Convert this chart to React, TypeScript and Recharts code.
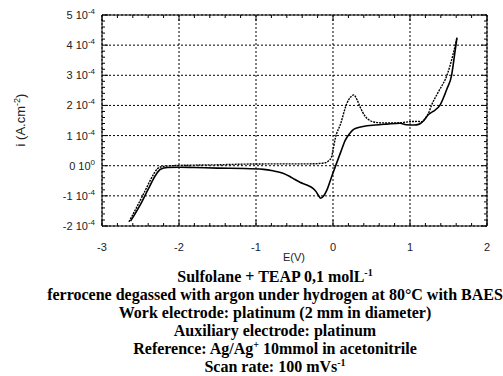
import React from 'react';
import { LineChart, Line, XAxis, YAxis } from 'recharts';

// Potential axis (V)
const E_TICKS = [-3, -2, -1, 0, 1, 2];
const E_MINOR = [-3, -2.8, -2.6, -2.4, -2.2, -2, -1.8, -1.6, -1.4, -1.2, -1, -0.8, -0.6, -0.4, -0.2, 0, 0.2, 0.4, 0.6, 0.8, 1, 1.2, 1.4, 1.6, 1.8, 2];
// Current axis, in units of 1e-4 A.cm^-2
const I_TICKS = [-2, -1, 0, 1, 2, 3, 4, 5];
const I_TICK_MANT = ['-2', '-1', '0', '1', '2', '3', '4', '5'];
const I_TICK_EXP = ['-4', '-4', '0', '-4', '-4', '-4', '-4', '-4'];
const I_MINOR = [-2, -1.8, -1.6, -1.4, -1.2, -1, -0.8, -0.6, -0.4, -0.2, 0, 0.2, 0.4, 0.6, 0.8, 1, 1.2, 1.4, 1.6, 1.8, 2, 2.2, 2.4, 2.6, 2.8, 3, 3.2, 3.4, 3.6, 3.8, 4, 4.2, 4.4, 4.6, 4.8, 5];

// Anodic (forward) scan
const forwardE = [-2.65, -2.55, -2.45, -2.38, -2.32, -2.28, -2.22, -2.1, -1.8, -1.5, -1.2, -0.8, -0.4, -0.2, -0.1, -0.05, -0.02, 0.0, 0.03, 0.1, 0.18, 0.23, 0.27, 0.31, 0.35, 0.42, 0.48, 0.53, 0.65, 0.8, 0.9, 1.0, 1.1, 1.15, 1.2, 1.24, 1.28, 1.38, 1.48, 1.55, 1.61];
const forwardI = [-1.86, -1.38, -0.88, -0.52, -0.24, -0.1, -0.03, 0.0, 0.02, 0.03, 0.05, 0.06, 0.06, 0.07, 0.1, 0.18, 0.28, 0.52, 0.91, 1.4, 2.07, 2.28, 2.35, 2.2, 1.96, 1.63, 1.5, 1.45, 1.42, 1.42, 1.43, 1.46, 1.47, 1.46, 1.58, 1.74, 2.01, 2.5, 3.0, 3.6, 4.25];

// Cathodic (reverse) scan
const reverseE = [1.61, 1.58, 1.54, 1.48, 1.39, 1.3, 1.24, 1.18, 1.12, 1.05, 0.95, 0.87, 0.7, 0.55, 0.39, 0.3, 0.26, 0.22, 0.16, 0.1, 0.03, -0.02, -0.08, -0.12, -0.16, -0.19, -0.22, -0.26, -0.34, -0.43, -0.5, -0.56, -0.65, -0.78, -0.9, -1.15, -1.5, -1.8, -2.0, -2.15, -2.24, -2.3, -2.4, -2.5, -2.63];
const reverseI = [4.25, 3.7, 3.0, 2.55, 2.01, 1.8, 1.7, 1.5, 1.38, 1.35, 1.36, 1.41, 1.38, 1.35, 1.3, 1.24, 1.19, 1.08, 0.85, 0.45, -0.03, -0.38, -0.81, -1.0, -1.08, -0.98, -0.86, -0.75, -0.64, -0.55, -0.45, -0.36, -0.25, -0.17, -0.12, -0.09, -0.08, -0.06, -0.05, -0.06, -0.12, -0.3, -0.78, -1.28, -1.84];

const TITLE_LINES = [
  { text: 'Sulfolane + TEAP 0,1 molL', sup: '-1', tail: '' },
  { text: 'ferrocene degassed with argon under hydrogen at 80°C with BAES', sup: '', tail: '' },
  { text: 'Work electrode: platinum (2 mm in diameter)', sup: '', tail: '' },
  { text: 'Auxiliary electrode: platinum', sup: '', tail: '' },
  { text: 'Reference: Ag/Ag', sup: '+', tail: ' 10mmol in acetonitrile' },
  { text: 'Scan rate: 100 mVs', sup: '-1', tail: '' },
];

const forwardData = forwardE.map((e, k) => ({ e, i: forwardI[k] }));
const reverseData = reverseE.map((e, k) => ({ e, i: reverseI[k] }));

const SANS = '"Liberation Sans", Arial, sans-serif';
const SERIF = '"Liberation Serif", "Times New Roman", serif';
const MAJOR_LEN = 6;
const MINOR_LEN = 3;
const CHART_W = 503;
const CHART_H = 376;
const MARGIN = { top: 14, right: 15, bottom: 149, left: 101 };
const PLOT_W = CHART_W - MARGIN.left - MARGIN.right - 2;
const PLOT_H = CHART_H - MARGIN.top - MARGIN.bottom - 2;
const GRID_DASH = '2 2';

// Major-tick labels only (tick marks are drawn by the top / right axes)
const BottomLabel = (p: any) => (
  <text x={p.x} y={p.y + 25} textAnchor="middle" fontSize={11} fontFamily={SANS} fill="#222">{p.payload.value}</text>
);

const LeftLabel = (p: any) => {
  const idx = I_TICKS.indexOf(p.payload.value);
  return (
    <text x={p.x - 7} y={p.y + 4} textAnchor="end" fontSize={11} fontFamily={SANS} fill="#222">
      <tspan>{I_TICK_MANT[idx]} 10</tspan>
      <tspan dy={-5} fontSize={8}>{I_TICK_EXP[idx]}</tspan>
    </text>
  );
};

// Top axis: inward tick marks on top and bottom frame edges, dotted vertical grid at majors
const TopTick = (p: any) => {
  const major = E_TICKS.includes(p.payload.value);
  const len = major ? MAJOR_LEN : MINOR_LEN;
  return (
    <g>
      {major ? <line x1={p.x} y1={p.y} x2={p.x} y2={p.y + PLOT_H} stroke="#000" strokeDasharray={GRID_DASH} /> : null}
      <line x1={p.x} y1={p.y} x2={p.x} y2={p.y + len} stroke="#000" />
      <line x1={p.x} y1={p.y + PLOT_H} x2={p.x} y2={p.y + PLOT_H - len} stroke="#000" />
    </g>
  );
};

// Right axis: inward tick marks on right and left frame edges, dotted horizontal grid at majors
const RightTick = (p: any) => {
  const major = I_TICKS.includes(p.payload.value);
  const len = major ? MAJOR_LEN : MINOR_LEN;
  return (
    <g>
      {major ? <line x1={p.x} y1={p.y} x2={p.x - PLOT_W} y2={p.y} stroke="#000" strokeDasharray={GRID_DASH} /> : null}
      <line x1={p.x} y1={p.y} x2={p.x - len} y2={p.y} stroke="#000" />
      <line x1={p.x - PLOT_W} y1={p.y} x2={p.x - PLOT_W + len} y2={p.y} stroke="#000" />
    </g>
  );
};

const common = { type: 'number' as const, allowDataOverflow: true, interval: 0 as const, tickSize: 0, tickMargin: 0, tickLine: false };

export default function App() {
  return (
    <div style={{ position: 'absolute', left: 0, top: 0, width: CHART_W, height: CHART_H, background: '#fff' }}>
      <LineChart width={CHART_W} height={CHART_H} margin={MARGIN}>
        <XAxis xAxisId="x" dataKey="e" {...common} domain={[-3, 2]} ticks={E_TICKS} orientation="bottom" height={1}
          axisLine={{ stroke: '#000' }} tick={BottomLabel} />
        <XAxis xAxisId="xt" dataKey="e" {...common} domain={[-3, 2]} ticks={E_MINOR} orientation="top" height={1}
          axisLine={{ stroke: '#000' }} tick={TopTick} />
        <YAxis yAxisId="y" dataKey="i" {...common} domain={[-2, 5]} ticks={I_TICKS} orientation="left" width={1}
          axisLine={{ stroke: '#000' }} tick={LeftLabel} />
        <YAxis yAxisId="yr" dataKey="i" {...common} domain={[-2, 5]} ticks={I_MINOR} orientation="right" width={1}
          axisLine={{ stroke: '#000' }} tick={RightTick} />
        <Line xAxisId="x" yAxisId="y" data={forwardData} dataKey="i" type="monotone" stroke="#000" strokeWidth={1.4}
          strokeDasharray="2 1" dot={false} isAnimationActive={false} />
        <Line xAxisId="x" yAxisId="y" data={reverseData} dataKey="i" type="monotone" stroke="#000" strokeWidth={1.6}
          dot={false} isAnimationActive={false} />
      </LineChart>
      <svg width={CHART_W} height={CHART_H} style={{ position: 'absolute', left: 0, top: 0, pointerEvents: 'none' }}>
        <text transform="rotate(-90)" x={-120} y={25} textAnchor="middle" fontSize={13} fontFamily={SANS} fill="#222">
          <tspan>i (A.cm</tspan>
          <tspan dy={-5} fontSize={9}>-2</tspan>
          <tspan dy={5}>)</tspan>
        </text>
        <text x={294} y={261} textAnchor="middle" fontSize={11} fontFamily={SANS} fill="#222">E(V)</text>
        {TITLE_LINES.map((l, k) => (
          <text key={k} x={275} y={282 + k * 18} textAnchor="middle" fontSize={16} fontWeight="bold" fontFamily={SERIF} fill="#000">
            <tspan>{l.text}</tspan>
            {l.sup ? <tspan dy={-6} fontSize={10}>{l.sup}</tspan> : null}
            {l.tail ? <tspan dy={6}>{l.tail}</tspan> : null}
          </text>
        ))}
      </svg>
    </div>
  );
}
